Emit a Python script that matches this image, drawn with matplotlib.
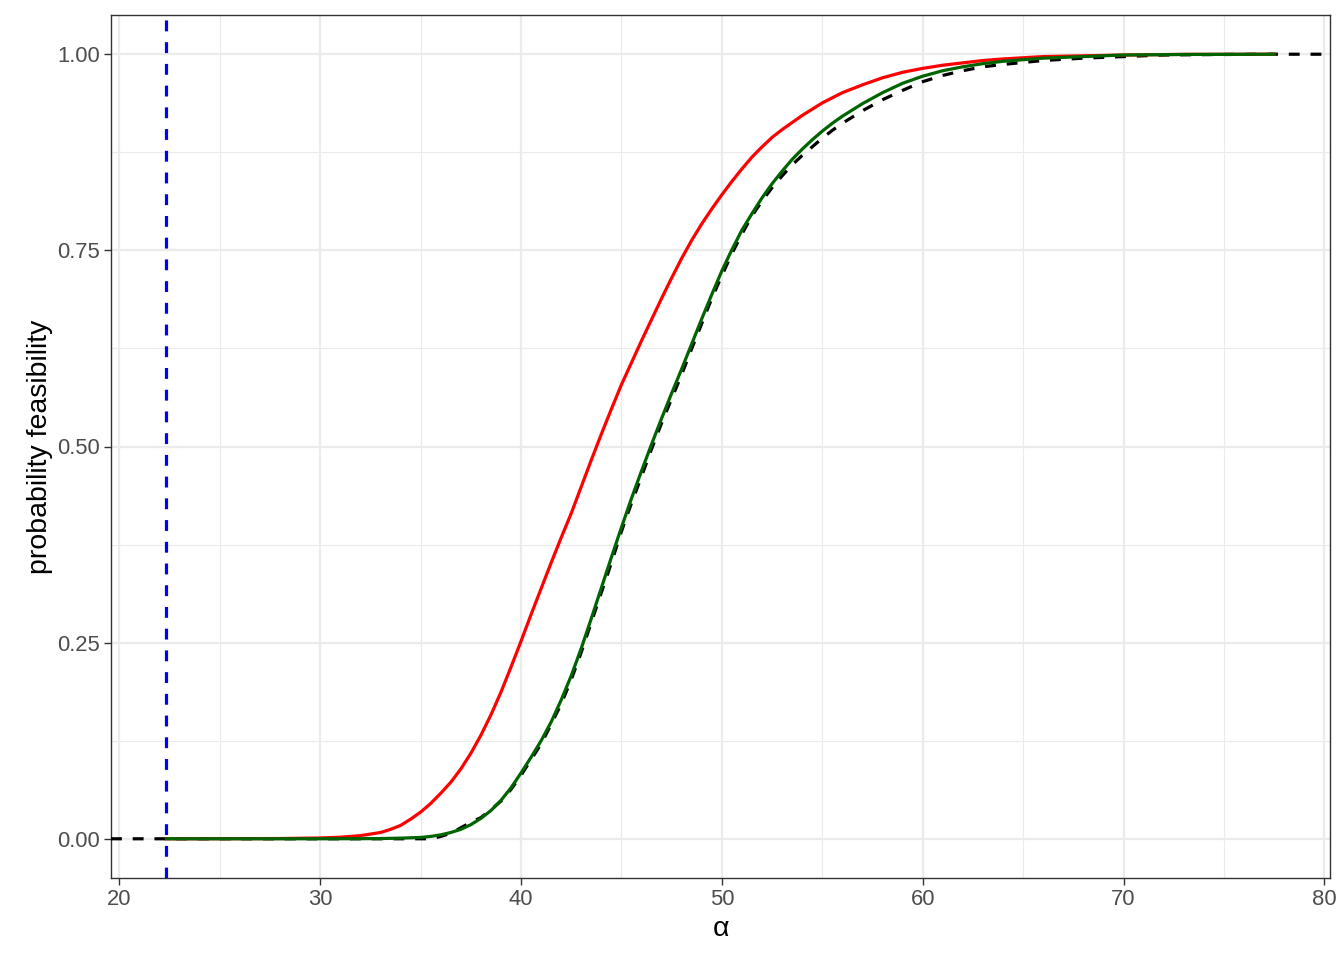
import numpy as np
import matplotlib
matplotlib.use("Agg")
from matplotlib import pyplot as plt

plt.rcParams['font.family'] = ['Liberation Sans', 'DejaVu Sans']

# vertical reference line
alpha_ref = 22.34

# red curve
red_x = [22.34, 25, 28, 30, 31, 32, 33, 33.5, 34, 34.5, 35, 35.5, 36, 36.5, 37, 37.5, 38,
         38.5, 39, 39.5, 40, 40.5, 41, 41.5, 42, 42.5, 43, 43.5, 44, 44.5, 45, 45.5, 46,
         46.5, 47, 47.5, 48, 48.5, 49, 49.5, 50, 50.5, 51, 51.5, 52, 52.5, 53, 53.5, 54,
         54.5, 55, 56, 57, 58, 59, 60, 61, 62, 63, 64, 66, 68, 70, 73, 77.52]
red_y = [0.0, 0.0001, 0.0003, 0.001, 0.002, 0.004, 0.008, 0.012, 0.017, 0.025, 0.034,
         0.045, 0.058, 0.072, 0.089, 0.109, 0.132, 0.158, 0.187, 0.219, 0.252, 0.286,
         0.319, 0.352, 0.384, 0.415, 0.449, 0.483, 0.516, 0.548, 0.579, 0.607, 0.635,
         0.662, 0.689, 0.715, 0.740, 0.763, 0.784, 0.803, 0.821, 0.838, 0.854, 0.869,
         0.882, 0.894, 0.904, 0.913, 0.922, 0.930, 0.938, 0.951, 0.961, 0.970, 0.977,
         0.982, 0.986, 0.989, 0.992, 0.994, 0.997, 0.998, 0.999, 0.9998, 1.0]

# green curve
green_x = [22.34, 30, 32, 33, 34, 35, 35.5, 36, 36.5, 37, 37.5, 38, 38.5, 39, 39.5, 40,
           40.5, 41, 41.5, 42, 42.5, 43, 43.5, 44, 44.5, 45, 45.5, 46, 46.5, 47, 47.5, 48,
           48.5, 49, 49.5, 50, 50.5, 51, 51.5, 52, 52.5, 53, 53.5, 54, 54.5, 55, 55.5, 56,
           57, 58, 59, 60, 61, 62, 63, 64, 66, 68, 70, 73, 77.52]
green_y = [0.0, 0.0, 0.0001, 0.0003, 0.0008, 0.0017, 0.003, 0.005, 0.008, 0.012, 0.018,
           0.026, 0.036, 0.049, 0.065, 0.084, 0.104, 0.125, 0.149, 0.177, 0.208, 0.243,
           0.281, 0.320, 0.359, 0.397, 0.434, 0.469, 0.503, 0.536, 0.568, 0.599, 0.631,
           0.663, 0.694, 0.724, 0.751, 0.776, 0.797, 0.817, 0.835, 0.851, 0.866, 0.879,
           0.891, 0.902, 0.912, 0.921, 0.937, 0.951, 0.963, 0.972, 0.979, 0.984, 0.988,
           0.991, 0.995, 0.997, 0.999, 0.9997, 1.0]

# black dashed empirical cdf
ecdf_x = [35.5, 36, 36.5, 37, 37.5, 38, 38.5, 39, 39.5, 40, 40.5, 41, 41.5, 42, 42.5, 43,
          43.5, 44, 44.5, 45, 45.5, 46, 46.5, 47, 47.5, 48, 48.5, 49, 49.5, 50, 50.5, 51,
          51.5, 52, 52.5, 53, 53.5, 54, 54.5, 55, 55.5, 56, 57, 58, 58.5, 59, 60, 61, 62,
          63, 64, 66, 68, 70, 72, 74, 77]
ecdf_y = [0.0, 0.003, 0.007, 0.014, 0.021, 0.027, 0.037, 0.048, 0.063, 0.081, 0.101, 0.121,
          0.146, 0.172, 0.203, 0.238, 0.276, 0.314, 0.352, 0.392, 0.428, 0.462, 0.497,
          0.530, 0.561, 0.592, 0.625, 0.657, 0.689, 0.718, 0.746, 0.771, 0.794, 0.813,
          0.830, 0.845, 0.859, 0.871, 0.882, 0.893, 0.903, 0.912, 0.928, 0.942, 0.948,
          0.954, 0.965, 0.973, 0.979, 0.984, 0.987, 0.992, 0.995, 0.997, 0.999, 0.9995,
          1.0]

x_ticks = [20, 30, 40, 50, 60, 70, 80]
y_ticks = [0.0, 0.25, 0.5, 0.75, 1.0]
y_labels = ["0.00", "0.25", "0.50", "0.75", "1.00"]

lw = 2.3
dash = (3.4, 3.4)
fig = plt.figure(figsize=(13.44, 9.6), dpi=100)
ax = fig.add_axes([111 / 1344, 82 / 960, 1219 / 1344, 863 / 960])

xmin = min(red_x + green_x + [alpha_ref])
xmax = max(red_x + green_x)
pad = 0.05 * (xmax - xmin)
x0, x1 = xmin - pad, xmax + pad

# ecdf padded out to the panel edges
ex = [x0] + ecdf_x + [x1]
ey = [0.0] + ecdf_y + [1.0]
ax.plot(ex, ey, color="black", lw=lw, dashes=dash, zorder=3)
ax.plot(red_x, red_y, color="red", lw=lw, zorder=4)
ax.plot(green_x, green_y, color="#006400", lw=lw, zorder=5)
ax.axvline(alpha_ref, color="blue", lw=lw, dashes=dash, zorder=6)

ax.set_xlim(x0, x1)
ax.set_ylim(-0.05, 1.05)
ax.set_xticks(x_ticks)
ax.set_yticks(y_ticks)
ax.set_yticklabels(y_labels)
ax.set_xticks([25, 35, 45, 55, 65, 75], minor=True)
ax.set_yticks([0.125, 0.375, 0.625, 0.875], minor=True)

ax.grid(which="major", color="#EBEBEB", lw=1.6, zorder=0)
ax.grid(which="minor", color="#EBEBEB", lw=0.8, zorder=0)
ax.set_axisbelow(True)
for s in ax.spines.values():
    s.set_color("#333333")
    s.set_linewidth(1.0)
ax.tick_params(which="major", length=5, width=1.0, color="#333333", labelcolor="#4D4D4D",
               labelsize=15.8, pad=3)
ax.tick_params(which="minor", length=0)

ax.set_xlabel("α", fontsize=20.5, labelpad=4)
ax.set_ylabel("probability feasibility", fontsize=20.5, labelpad=3)

fig.savefig("out.png", dpi=100)
